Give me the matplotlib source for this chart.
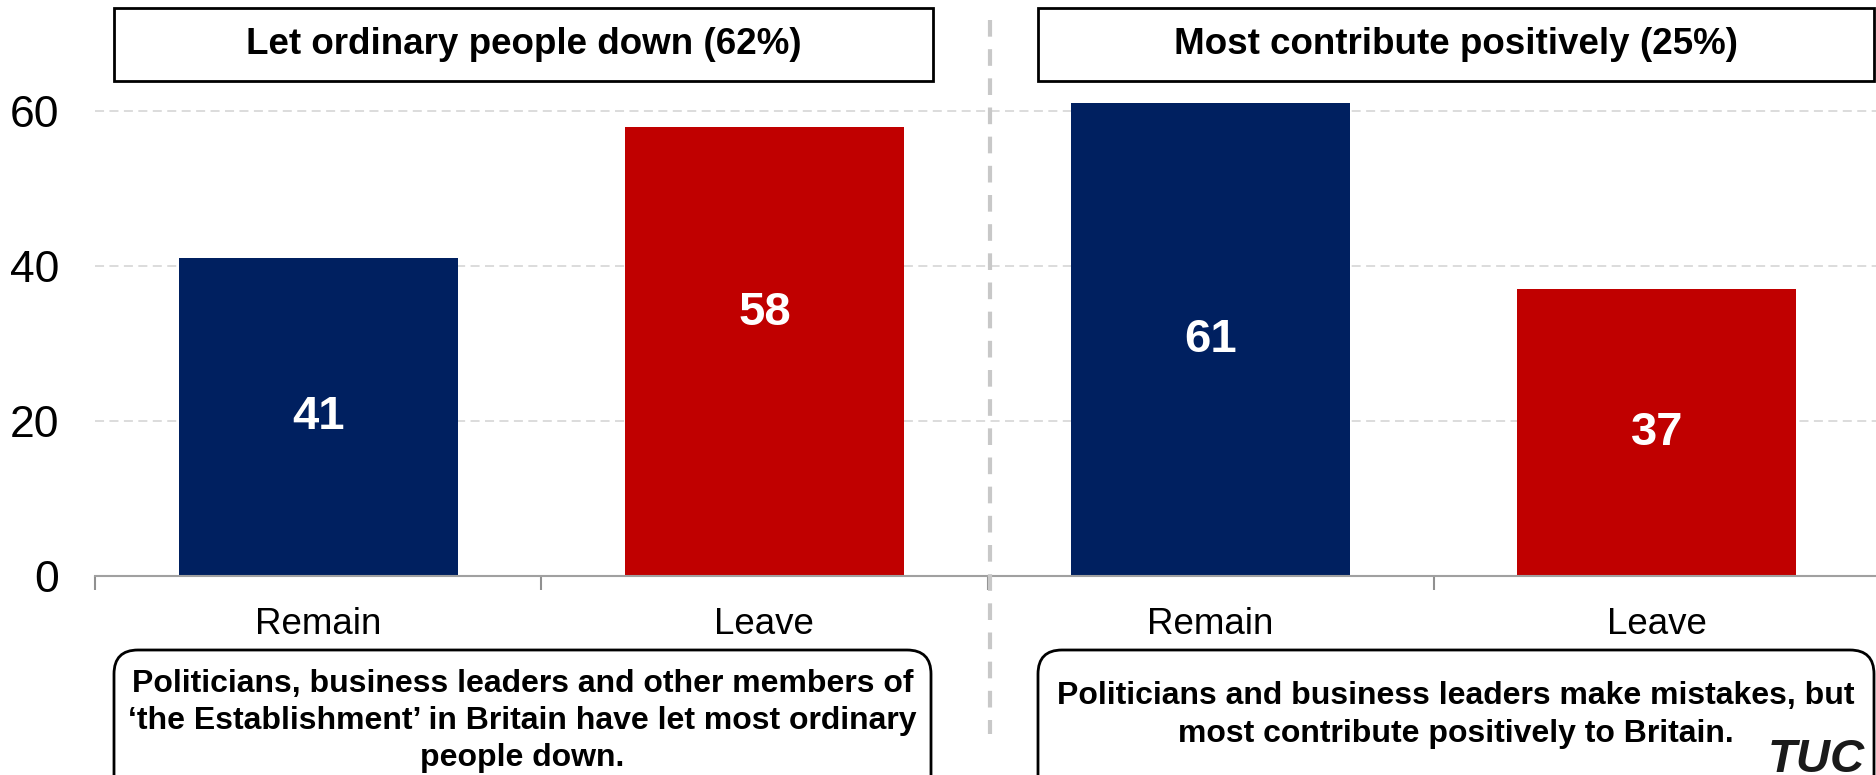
import matplotlib
matplotlib.use("Agg")
import matplotlib.pyplot as plt
from matplotlib.patches import Rectangle, FancyBboxPatch

plt.rcParams['font.family'] = ['Liberation Sans', 'DejaVu Sans']

# data
categories = ["Remain", "Leave", "Remain", "Leave"]
values = [41, 58, 61, 37]
panel_titles = ["Let ordinary people down (62%)", "Most contribute positively (25%)"]
panel_notes = [
    "Politicians, business leaders and other members of\n"
    "\u2018the Establishment\u2019 in Britain have let most ordinary\n"
    "people down.",
    "Politicians and business leaders make mistakes, but\n"
    "most contribute positively to Britain.",
]
yticks = [0, 20, 40, 60]

NAVY = "#002060"
RED = "#C00000"
bar_colors = [NAVY, RED, NAVY, RED]

W, H = 1876, 775
fig = plt.figure(figsize=(W / 100, H / 100), dpi=100)

# chart area
ax = fig.add_axes([95 / W, 1 - 576 / H, (1880 - 95) / W, (576 - 33.5) / H])
x = list(range(len(categories)))
ax.bar(x, values, width=0.625, color=bar_colors, zorder=3)

ax.set_xlim(-0.5, len(categories) - 0.5)
ax.set_ylim(0, 70)

# value labels (white, bold, inside bars)
label_shift = [0, 5, 0, 0]
for xi, v, s in zip(x, values, label_shift):
    ax.text(xi, v / 2 + s, str(v), ha="center", va="center", color="white",
            fontsize=34, fontweight="bold", zorder=4)

# grid
ax.set_yticks(yticks)
ax.yaxis.grid(True, color="#d9d9d9", linewidth=1.3, dashes=(5, 3), zorder=0)
ax.tick_params(axis="y", length=0, pad=26, labelsize=32)

# x ticks: marks at category boundaries, labels at centres
ax.set_xticks([i - 0.5 for i in range(len(categories) + 1)])
ax.set_xticklabels([])
ax.set_xticks(x, minor=True)
ax.set_xticklabels(categories, minor=True)
ax.tick_params(axis="x", which="major", length=10, width=1.5, color="#909090")
ax.tick_params(axis="x", which="minor", length=0, pad=22, labelsize=26.5)

for side in ["top", "right", "left"]:
    ax.spines[side].set_visible(False)
ax.spines["bottom"].set_color("#a0a0a0")
ax.spines["bottom"].set_linewidth(1.5)
ax.spines["bottom"].set_zorder(5)

# overlay in pixel coordinates for the boxes and separator
ov = fig.add_axes([0, 0, 1, 1], zorder=10)
ov.set_xlim(0, W)
ov.set_ylim(H, 0)
ov.axis("off")
ov.patch.set_alpha(0)

# vertical separator between the two panels
ov.plot([990, 990], [20, 734], color="#c8c8c8", linewidth=3, dashes=(4, 3))

# title boxes
title_boxes = [(114, 933), (1038, 1874)]
for (x0, x1), t in zip(title_boxes, panel_titles):
    ov.add_patch(Rectangle((x0, 8), x1 - x0, 73, facecolor="white",
                           edgecolor="black", linewidth=2))
    ov.text((x0 + x1) / 2, 44, t, ha="center", va="center",
            fontsize=26.5, fontweight="bold")

# note boxes at the bottom
note_boxes = [(114, 931, 721), (1038, 1874, 715)]
for (x0, x1, cy), t in zip(note_boxes, panel_notes):
    ov.add_patch(FancyBboxPatch((x0, 650), x1 - x0, 160,
                                boxstyle="round,pad=0,rounding_size=24",
                                facecolor="white", edgecolor="black",
                                linewidth=2))
    ov.text((x0 + x1) / 2, cy, t, ha="center", va="center",
            fontsize=23, fontweight="bold", linespacing=1.32)

# TUC logo
ov.text(1816, 738, "TUC", ha="center", va="top", fontsize=34,
        fontweight="bold", fontstyle="italic", color="#1a1a1a")

fig.savefig("out.png", dpi=100, facecolor="white")
